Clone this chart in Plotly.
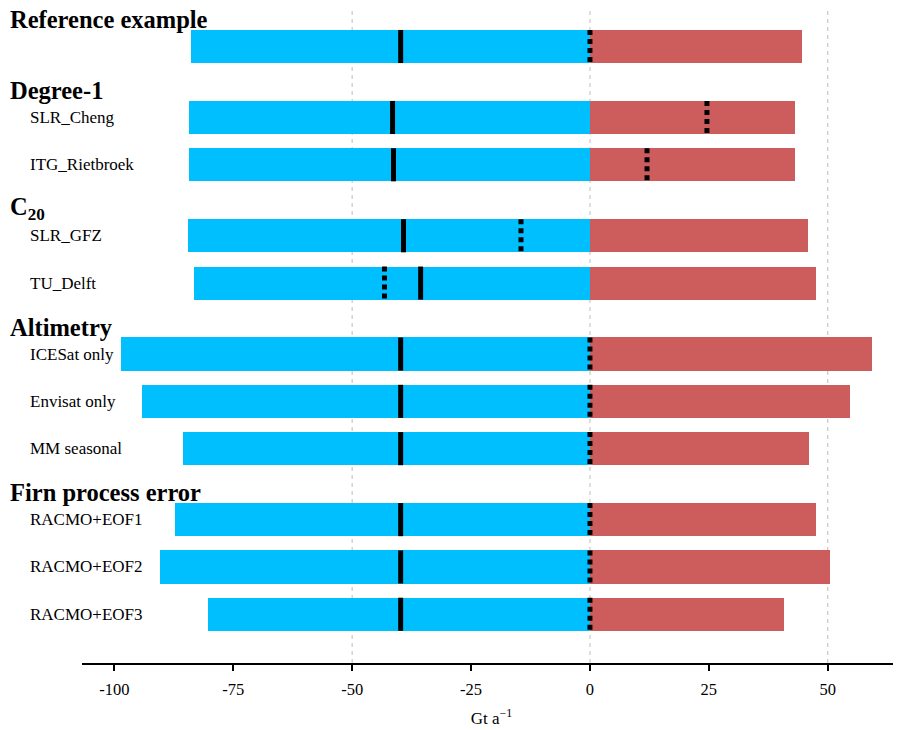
import plotly.graph_objects as go

# ---- data ----
groups = ["Reference example", "Degree-1", "C<sub>20</sub>", "Altimetry", "Firn process error"]
group_sizes = [1, 2, 2, 3, 3]
labels = ["", "SLR_Cheng", "ITG_Rietbroek", "SLR_GFZ", "TU_Delft",
          "ICESat only", "Envisat only", "MM seasonal",
          "RACMO+EOF1", "RACMO+EOF2", "RACMO+EOF3"]
neg_values = [-83.9, -84.4, -84.2, -84.6, -83.2, -98.7, -94.1, -85.5, -87.2, -90.3, -80.4]
pos_values = [44.6, 43.2, 43.2, 45.9, 47.6, 59.4, 54.7, 46.1, 47.6, 50.5, 40.8]
solid_values = [-39.8, -41.5, -41.3, -39.2, -35.6, -39.8, -39.8, -39.8, -39.8, -39.8, -39.8]
dotted_values = [0.0, 24.6, 12.0, -14.5, -43.2, 0.0, 0.0, 0.0, 0.0, 0.0, 0.0]
tick_values = [-100, -75, -50, -25, 0, 25, 50]
tick_labels = ["-100", "-75", "-50", "-25", "0", "25", "50"]
grid_values = [-50, 0, 50]

# ---- row positions from group structure ----
positions = []
header_pos = []
p = 0.0
for gi, n in enumerate(group_sizes):
    if gi > 0:
        p += 0.5
    header_pos.append(p)
    for k in range(n):
        positions.append(p)
        p += 1.0

HALF = 0.35
FONT = "Liberation Serif"

fig = go.Figure()
fig.add_trace(go.Bar(y=positions, x=neg_values, orientation="h", width=2 * HALF,
                     marker=dict(color="#00BFFF", line=dict(width=0)), showlegend=False))
fig.add_trace(go.Bar(y=positions, x=pos_values, orientation="h", width=2 * HALF,
                     marker=dict(color="#CD5C5C", line=dict(width=0)), showlegend=False))

def seg(vals):
    xs, ys = [], []
    for v, yp in zip(vals, positions):
        xs += [v, v, None]
        ys += [yp - HALF, yp + HALF, None]
    return xs, ys

sx, sy = seg(solid_values)
fig.add_trace(go.Scatter(x=sx, y=sy, mode="lines", line=dict(color="black", width=5),
                         showlegend=False, hoverinfo="skip"))
dx, dy = seg(dotted_values)
fig.add_trace(go.Scatter(x=dx, y=dy, mode="lines",
                         line=dict(color="black", width=5, dash="5px,4px"),
                         showlegend=False, hoverinfo="skip"))

for g in grid_values:
    fig.add_vline(x=g, line=dict(color="#bdbdbd", width=1, dash="4px,4px"), layer="below")

PLOT_L = 74
PLOT_W = 893 - PLOT_L
for name, hp in zip(groups, header_pos):
    fig.add_annotation(x=(1 - PLOT_L) / PLOT_W, xref="paper", y=hp - 0.57, yref="y",
                       text="<b>" + name + "</b>", showarrow=False, xanchor="left",
                       borderpad=0,
                       font=dict(family=FONT, size=24.5, color="black"))
for lab, yp in zip(labels, positions):
    if lab:
        fig.add_annotation(x=(20 - PLOT_L) / PLOT_W, xref="paper", y=yp, yref="y",
                           text=lab, showarrow=False, xanchor="left",
                           font=dict(family=FONT, size=17, color="black"))

fig.update_layout(
    width=893, height=722,
    margin=dict(l=PLOT_L, r=0, t=0, b=67, autoexpand=False),
    plot_bgcolor="white", paper_bgcolor="white",
    barmode="overlay", bargap=0,
    font=dict(family=FONT, size=16.5, color="black"),
    xaxis=dict(range=[-106.8, 65.4], tickvals=tick_values, ticktext=tick_labels,
               showgrid=False, zeroline=False, showline=True, linecolor="black",
               linewidth=2, ticks="outside", ticklen=6, tickwidth=2, tickcolor="black",
               ticklabelstandoff=4, automargin=False,
               tickfont=dict(family=FONT, size=16.5),
               title=dict(text="Gt a<sup>\u22121</sup>", font=dict(family=FONT, size=17),
                          standoff=14)),
    yaxis=dict(range=[13.03, -0.814], showgrid=False, zeroline=False, showline=False,
               showticklabels=False, ticks=""),
)

fig.write_html("out.html")
